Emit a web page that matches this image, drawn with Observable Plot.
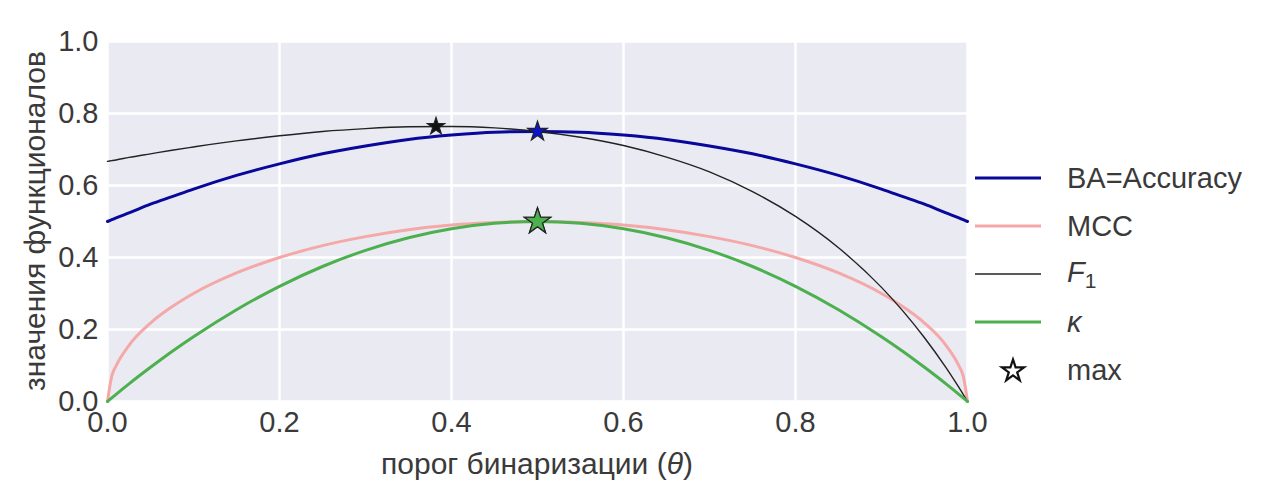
<!DOCTYPE html>
<html>
<head>
<meta charset="utf-8">
<script src="https://cdn.jsdelivr.net/npm/d3@7"></script>
<script src="https://cdn.jsdelivr.net/npm/@observablehq/plot@0.6"></script>
<style>
  html, body { margin: 0; padding: 0; background: #fff; }
  #wrap { position: relative; width: 1269px; height: 490px; font-family: "Liberation Sans", Arial, sans-serif; color: #3a3a3a; }
  #legend { position: absolute; left: 975px; top: 154px; font-size: 29px; }
  #legend .row { display: flex; align-items: center; height: 48px; }
  #legend svg { width: 92px; height: 48px; flex: none; }
  #legend sub { font-size: 21px; vertical-align: -6px; font-style: normal; }
</style>
</head>
<body>
<div id="wrap"></div>
<script>
// Binarization threshold values
const theta = [0, 0.005, 0.01, 0.025, 0.05, 0.075, 0.1, 0.15, 0.2, 0.25, 0.3, 0.35, 0.4, 0.45, 0.5,
               0.55, 0.6, 0.65, 0.7, 0.75, 0.8, 0.85, 0.9, 0.925, 0.95, 0.975, 0.99, 0.995, 1];

// Metric values at each threshold
const baAccuracy = [0.5, 0.505, 0.51, 0.524, 0.548, 0.569, 0.59, 0.628, 0.66, 0.688, 0.71, 0.728, 0.74, 0.748, 0.75,
                    0.748, 0.74, 0.728, 0.71, 0.688, 0.66, 0.628, 0.59, 0.569, 0.548, 0.524, 0.51, 0.505, 0.5];
const mcc = [0, 0.071, 0.099, 0.156, 0.218, 0.263, 0.3, 0.357, 0.4, 0.433, 0.458, 0.477, 0.49, 0.497, 0.5,
             0.497, 0.49, 0.477, 0.458, 0.433, 0.4, 0.357, 0.3, 0.263, 0.218, 0.156, 0.099, 0.071, 0];
const f1 = [0.667, 0.669, 0.671, 0.678, 0.688, 0.698, 0.707, 0.724, 0.738, 0.75, 0.758, 0.763, 0.764, 0.76, 0.75,
            0.734, 0.711, 0.679, 0.638, 0.583, 0.514, 0.427, 0.317, 0.251, 0.177, 0.094, 0.039, 0.02, 0];
const kappa = [0, 0.01, 0.02, 0.049, 0.095, 0.139, 0.18, 0.255, 0.32, 0.375, 0.42, 0.455, 0.48, 0.495, 0.5,
               0.495, 0.48, 0.455, 0.42, 0.375, 0.32, 0.255, 0.18, 0.139, 0.095, 0.049, 0.02, 0.01, 0];

// Maximum of each metric
const maxMetric = ["BA=Accuracy", "MCC", "F1", "kappa"];
const maxTheta = [0.5, 0.5, 0.382, 0.5];
const maxValue = [0.75, 0.5, 0.764, 0.5];

const xTicks = [0, 0.2, 0.4, 0.6, 0.8, 1.0];
const yTicks = [0, 0.2, 0.4, 0.6, 0.8, 1.0];

const colors = { ba: "#08089a", mcc: "#f5a8a8", f1: "#222222", kappa: "#4cb04f" };
const starFill = { "BA=Accuracy": "#0a14d0", "MCC": "#f5a8a8", "F1": "#111111", "kappa": "#4cb04f" };
const starRadius = { "BA=Accuracy": 6.2, "MCC": 8.2, "F1": 5.4, "kappa": 8.2 };

const series = (ys) => theta.map((t, i) => ({ t, v: ys[i] }));
const maxima = maxMetric.map((m, i) => ({ m, t: maxTheta[i], v: maxValue[i] }));
const fmt = d => d.toFixed(1);

const chart = Plot.plot({
  width: 1269,
  height: 490,
  marginLeft: 107,
  marginRight: 302,
  marginTop: 41,
  marginBottom: 89,
  style: { fontFamily: "'Liberation Sans', Arial, sans-serif", fontSize: "29px", color: "#3a3a3a", background: "transparent" },
  x: { domain: [0, 1] },
  y: { domain: [0, 1] },
  r: { type: "identity" },
  marks: [
    Plot.frame({ fill: "#eaeaf2", stroke: null }),
    Plot.gridX(xTicks, { stroke: "#ffffff", strokeOpacity: 1, strokeWidth: 2.5 }),
    Plot.gridY(yTicks, { stroke: "#ffffff", strokeOpacity: 1, strokeWidth: 2.5 }),
    Plot.axisX(xTicks, { tickSize: 0, tickPadding: 10, tickFormat: fmt, label: null }),
    Plot.axisY(yTicks, { tickSize: 0, tickPadding: 9, tickFormat: fmt, label: null }),
    Plot.line(series(baAccuracy), { x: "t", y: "v", stroke: colors.ba, strokeWidth: 3, curve: "monotone-x" }),
    Plot.line(series(mcc), { x: "t", y: "v", stroke: colors.mcc, strokeWidth: 3, curve: "monotone-x" }),
    Plot.line(series(f1), { x: "t", y: "v", stroke: colors.f1, strokeWidth: 1.4, curve: "monotone-x" }),
    Plot.line(series(kappa), { x: "t", y: "v", stroke: colors.kappa, strokeWidth: 3, curve: "monotone-x" }),
    // stars at the maxima
    Plot.dot(maxima, {
      x: "t", y: "v", symbol: "star",
      r: d => starRadius[d.m],
      fill: d => starFill[d.m],
      stroke: "#222", strokeWidth: 1.2
    })
  ]
});

const wrap = document.getElementById("wrap");
wrap.appendChild(chart);

// Axis titles
const svg = d3.select(chart);
const [x0, x1] = chart.scale("x").range;
const [y0, y1] = chart.scale("y").range;
svg.append("text")
  .attr("x", (x0 + x1) / 2).attr("y", 474)
  .attr("text-anchor", "middle").attr("fill", "#3a3a3a").attr("font-size", 30)
  .call(t => {
    t.append("tspan").text("порог бинаризации (");
    t.append("tspan").attr("font-style", "italic").text("θ");
    t.append("tspan").text(")");
  });
svg.append("text")
  .attr("transform", `translate(45,${(y0 + y1) / 2}) rotate(-90)`)
  .attr("text-anchor", "middle").attr("fill", "#3a3a3a").attr("font-size", 30)
  .text("значения функционалов");

// Legend
const legendItems = [
  { html: "BA=Accuracy", color: colors.ba, width: 3.2, kind: "line" },
  { html: "MCC", color: colors.mcc, width: 3.2, kind: "line" },
  { html: "<i>F</i><sub>1</sub>", color: colors.f1, width: 1.6, kind: "line" },
  { html: "<i>κ</i>", color: colors.kappa, width: 3.2, kind: "line" },
  { html: "max", kind: "star" }
];
const legend = d3.select(wrap).append("div").attr("id", "legend");
legendItems.forEach(item => {
  const row = legend.append("div").attr("class", "row");
  const s = row.append("svg");
  if (item.kind === "line") {
    s.append("line").attr("x1", 0).attr("x2", 66).attr("y1", 24).attr("y2", 24)
      .attr("stroke", item.color).attr("stroke-width", item.width);
  } else {
    s.append("path").attr("d", d3.symbol(d3.symbolStar, 150)())
      .attr("transform", "translate(38,25)")
      .attr("fill", "none").attr("stroke", "#111").attr("stroke-width", 2.2);
  }
  row.append("span").html(item.html);
});
</script>
</body>
</html>
